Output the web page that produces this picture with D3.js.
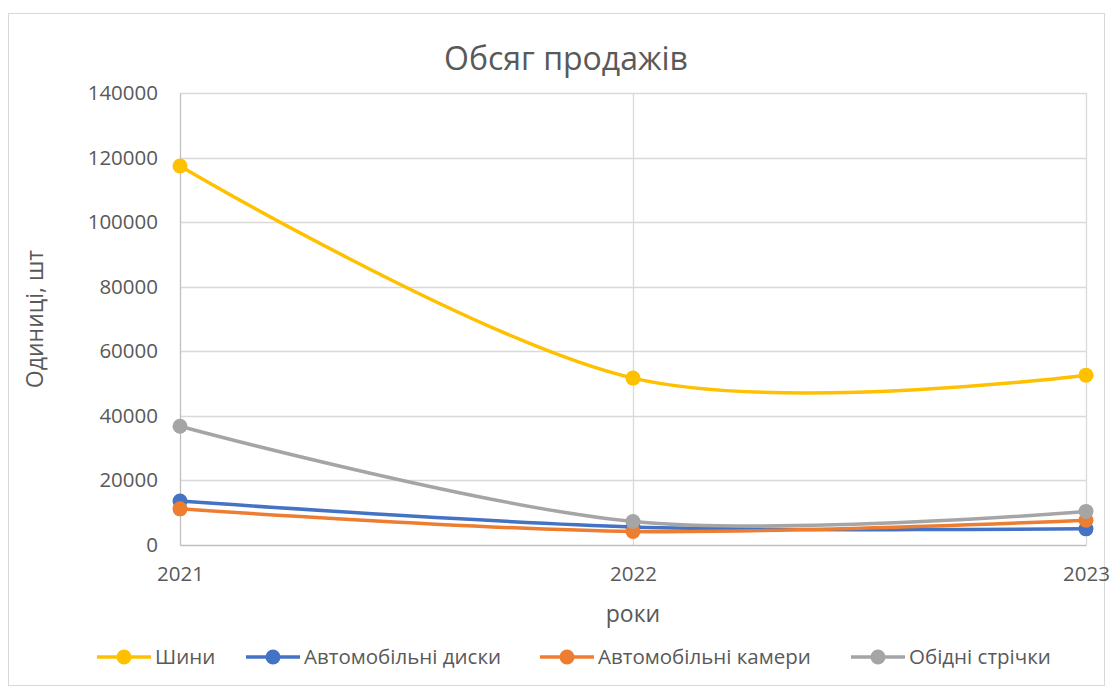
<!DOCTYPE html>
<html>
<head>
<meta charset="utf-8">
<script src="https://cdn.jsdelivr.net/npm/d3@7"></script>
<style>
  body { margin: 0; background: #fff; }
  text { font-family: "Open Sans", "Noto Sans", sans-serif; fill: #595959; }
</style>
</head>
<body>
<script>
// years on the x axis
var years = ["2021", "2022", "2023"];
// units sold per series
var tyres = [117400, 51700, 52600];
var rims = [13600, 5600, 5000];
var tubes = [11200, 4200, 7700];
var rimTapes = [36800, 7300, 10400];
var seriesNames = ["Шини", "Автомобільні диски", "Автомобільні камери", "Обідні стрічки"];
var seriesColors = ["#FFC000", "#4472C4", "#ED7D31", "#A5A5A5"];
var yTicks = [0, 20000, 40000, 60000, 80000, 100000, 120000, 140000];

var series = [tyres, rims, tubes, rimTapes].map(function(vals, i) {
  return { name: seriesNames[i], color: seriesColors[i], values: vals };
});

var W = 1112, H = 689;
var margin = {top: 93, right: 26, bottom: 144, left: 180};

var svg = d3.select("body").append("svg")
    .attr("width", W)
    .attr("height", H);

// chart frame
svg.append("rect")
    .attr("x", 8.5).attr("y", 13.5)
    .attr("width", 1096).attr("height", 672)
    .attr("fill", "#fff")
    .attr("stroke", "#d9d9d9");

var x = d3.scalePoint().domain(years).range([margin.left, W - margin.right]);
var y = d3.scaleLinear().domain([0, 140000]).range([H - margin.bottom, margin.top]);

// horizontal gridlines
svg.append("g").selectAll("line")
    .data(yTicks.slice(1))
    .enter().append("line")
    .attr("x1", x.range()[0]).attr("x2", x.range()[1])
    .attr("y1", function(d) { return Math.round(y(d)) + 0.5; })
    .attr("y2", function(d) { return Math.round(y(d)) + 0.5; })
    .attr("stroke", "#d9d9d9").attr("stroke-width", 1.3);

// vertical gridlines
svg.append("g").selectAll("line")
    .data(years.slice(1))
    .enter().append("line")
    .attr("x1", function(d) { return Math.round(x(d)) + 0.5; })
    .attr("x2", function(d) { return Math.round(x(d)) + 0.5; })
    .attr("y1", y(140000)).attr("y2", y(0))
    .attr("stroke", "#d9d9d9").attr("stroke-width", 1.3);

// axes
var yAxis = svg.append("g")
    .attr("transform", "translate(" + x.range()[0] + ",0)")
    .call(d3.axisLeft(y).tickValues(yTicks).tickSize(0).tickPadding(22).tickFormat(d3.format("d")));
yAxis.select(".domain").attr("stroke", "#bfbfbf").attr("stroke-width", 1.3);
yAxis.selectAll("text").attr("font-size", "20.5px").attr("fill", "#595959");

var xAxis = svg.append("g")
    .attr("transform", "translate(0," + y(0) + ")")
    .call(d3.axisBottom(x).tickSize(0).tickPadding(21));
xAxis.select(".domain").attr("stroke", "#bfbfbf").attr("stroke-width", 1.3);
xAxis.selectAll("text").attr("font-size", "20.5px").attr("fill", "#595959");

// titles
svg.append("text")
    .attr("x", 566).attr("y", 70)
    .attr("text-anchor", "middle")
    .attr("font-size", "32px")
    .text("Обсяг продажів");

svg.append("text")
    .attr("x", (x.range()[0] + x.range()[1]) / 2).attr("y", 622)
    .attr("text-anchor", "middle")
    .attr("font-size", "23px")
    .text("роки");

svg.append("text")
    .attr("transform", "translate(43," + ((y(0) + y(140000)) / 2) + ") rotate(-90)")
    .attr("text-anchor", "middle")
    .attr("font-size", "23px")
    .text("Одиниці, шт");

// smoothed lines
var line = d3.line()
    .x(function(d, i) { return x(years[i]); })
    .y(function(d) { return y(d); })
    .curve(d3.curveCardinal.tension(0));

var g = svg.append("g").selectAll("g")
    .data(series)
    .enter().append("g");

g.append("path")
    .attr("d", function(d) { return line(d.values); })
    .attr("fill", "none")
    .attr("stroke", function(d) { return d.color; })
    .attr("stroke-width", 3.5)
    .attr("stroke-linecap", "round");

g.selectAll("circle")
    .data(function(d) { return d.values.map(function(v, i) { return {v: v, i: i, color: d.color}; }); })
    .enter().append("circle")
    .attr("cx", function(d) { return x(years[d.i]); })
    .attr("cy", function(d) { return y(d.v); })
    .attr("r", 7.5)
    .attr("fill", function(d) { return d.color; });

// legend
var legendX = [97, 246, 540, 851];
var leg = svg.append("g").selectAll("g")
    .data(series)
    .enter().append("g")
    .attr("transform", function(d, i) { return "translate(" + legendX[i] + ",657)"; });

leg.append("line")
    .attr("x1", 0).attr("x2", 54)
    .attr("stroke", function(d) { return d.color; })
    .attr("stroke-width", 3.5);
leg.append("circle")
    .attr("cx", 27).attr("r", 7.5)
    .attr("fill", function(d) { return d.color; });
leg.append("text")
    .attr("x", 58).attr("y", 7)
    .attr("font-size", "20.5px")
    .text(function(d) { return d.name; });
</script>
</body>
</html>
